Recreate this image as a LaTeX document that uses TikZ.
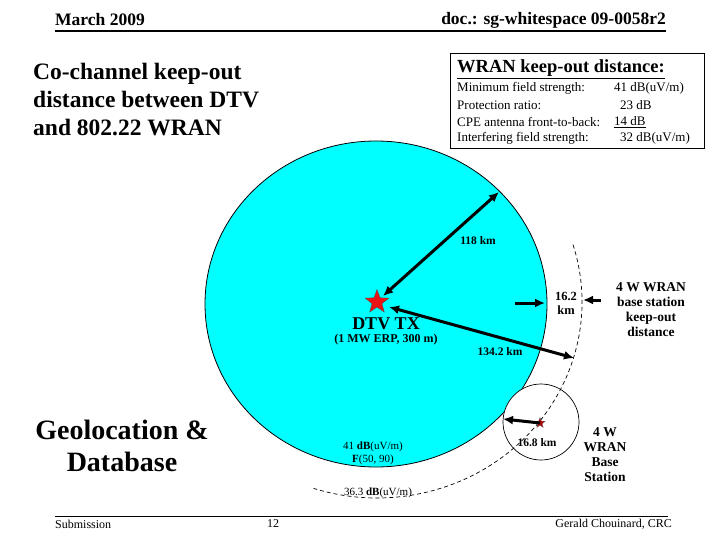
\documentclass[tikz,border=0pt]{standalone}
\usepackage{fontspec}
\setmainfont{Liberation Serif}
\usetikzlibrary{shapes.geometric,arrows.meta}
\definecolor{aqua}{RGB}{0,255,255}
\definecolor{starred}{RGB}{235,20,20}
\tikzset{
  bigarrow/.style={line width=3pt, {Latex[length=10pt,width=9pt]}-{Latex[length=10pt,width=9pt]}},
  onearrow/.style={line width=3pt, -{Latex[length=10pt,width=9pt]}},
  lbl/.style={font=\fontsize{11.5}{13}\selectfont\bfseries, align=center, inner sep=0pt},
  boxrow/.style={anchor=west, inner sep=0pt, font=\fontsize{13}{15}\selectfont},
}
\begin{document}
\begin{tikzpicture}[x=1pt,y=-1pt]
\useasboundingbox (0,0) rectangle (720,540);
% header / footer
\node[anchor=west, inner sep=0pt, font=\fontsize{17.5}{19}\selectfont\bfseries] (date) at (55,20) {March 2009};
\node[anchor=east, inner sep=0pt, font=\fontsize{17.5}{19}\selectfont\bfseries] (doc) at (666,20) {doc.: sg-whitespace 09-0058r2};
\draw[line width=1.3pt] (55,31) -- (666,31);
\draw[line width=1pt] (55,516) -- (668,516);
\node[anchor=west, inner sep=0pt, font=\fontsize{12}{14}\selectfont] (sub) at (55,524) {Submission};
\node[inner sep=0pt, font=\fontsize{12}{14}\selectfont] (pg) at (273,524) {12};
\node[anchor=east, inner sep=0pt, font=\fontsize{12}{14}\selectfont] (auth) at (672,524) {Gerald Chouinard, CRC};
% title
\node[anchor=west, align=left, inner sep=0pt, font=\fontsize{23.5}{28}\selectfont\bfseries] (title) at (33,100)
  {Co-channel keep-out\\distance between DTV\\and 802.22 WRAN};
\node[align=center, inner sep=0pt, font=\fontsize{28}{32}\selectfont\bfseries] (geo) at (122,446)
  {Geolocation \&\\Database};
% box
\draw[line width=1pt] (450,54) rectangle (704,149);
\node[anchor=west, inner sep=0pt, font=\fontsize{18.5}{20}\selectfont\bfseries] (boxh) at (457,69) {\underline{WRAN keep-out distance:}};
\node[boxrow] (r1) at (457,88) {Minimum field strength:};
\node[boxrow] (r2) at (457,105) {Protection ratio:};
\node[boxrow] (r3) at (457,122) {CPE antenna front-to-back:};
\node[boxrow] (r4) at (457,138) {Interfering field strength:};
\node[boxrow] (v1) at (614,88) {41 dB(uV/m)};
\node[boxrow] (v2) at (620,105) {23 dB};
\node[boxrow] (v3) at (614,122) {\underline{14 dB}};
\node[boxrow] (v4) at (620,138) {32 dB(uV/m)};
% coverage
\fill[aqua, draw=black, line width=0.8pt] (376,304) ellipse [x radius=171, y radius=163];
\draw[line width=0.7pt, fill=white] (541,422) circle [radius=38];
\draw[line width=0.7pt, dash pattern=on 4pt off 3pt] (377,302) ++(-17:205 and 196)
  arc[start angle=-17, end angle=108, x radius=205, y radius=196];
% transmitters
\node[star, star points=5, star point ratio=2.4, fill=starred, draw=black!70, line width=0.3pt, minimum size=25pt, inner sep=0pt] (dtv) at (377,302) {};
\node[star, star points=5, star point ratio=2.4, fill=red!70!black, draw=black!60, line width=0.3pt, minimum size=11pt, inner sep=0pt] (bs) at (540,423) {};
% arrows
\coordinate (d118s) at (383,296);
\coordinate (e118) at (499,192);
\coordinate (d134s) at (389,307);
\coordinate (d134) at (574,358);
\coordinate (a1s) at (515,303);
\coordinate (a1e) at (545,303);
\coordinate (a2s) at (601,300);
\coordinate (a2e) at (583,300);
\coordinate (b168) at (503,419);
\draw[bigarrow] (d118s) -- (e118);
\draw[bigarrow] (d134s) -- (d134);
\draw[onearrow] (a1s) -- (a1e);
\draw[onearrow] (a2s) -- (a2e);
\draw[onearrow] (bs.center) -- (b168);
% labels
\node[lbl] (l118) at (478,241) {118 km};
\node[lbl] (l134) at (500,352) {134.2 km};
\node[lbl, font=\fontsize{12.5}{14}\selectfont\bfseries] (l162) at (566,303) {16.2\\km};
\node[lbl] (l168) at (537,443) {16.8 km};
\node[inner sep=0pt, font=\fontsize{18}{20}\selectfont\bfseries] (dtvl) at (386,324) {DTV TX};
\node[inner sep=0pt, font=\fontsize{12}{14}\selectfont\bfseries] (dtvs) at (386,340) {(1 MW ERP, 300 m)};
\node[lbl, font=\fontsize{13.5}{15}\selectfont\bfseries] (kod) at (651,310) {4 W WRAN\\base station\\keep-out\\distance};
\node[lbl, font=\fontsize{13.5}{15}\selectfont\bfseries] (bsl) at (605,455) {4 W\\WRAN\\Base\\Station};
\node[inner sep=0pt, align=center, font=\fontsize{11}{13}\selectfont] (f41) at (373,453) {41 \textbf{dB}(uV/m)\\\textbf{F}(50, 90)};
\node[inner sep=0pt, font=\fontsize{11}{13}\selectfont] (f36) at (378,493) {36.3 \textbf{dB}(uV/m)};
\end{tikzpicture}
\end{document}
